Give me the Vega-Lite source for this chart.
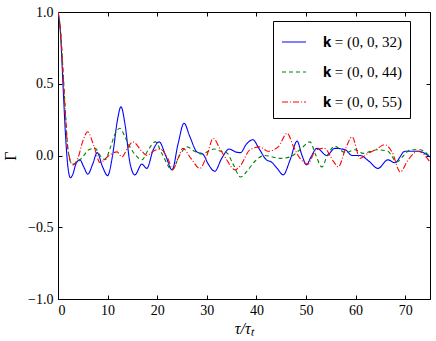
{
  "$schema": "https://vega.github.io/schema/vega-lite/v6.json",
  "width": 372,
  "height": 287,
  "autosize": {"type": "none"},
  "padding": {"left": 58, "top": 12, "right": 6, "bottom": 42},
  "background": "white",
  "config": {
    "view": {"stroke": "black", "strokeWidth": 1},
    "font": "serif",
    "style": {
      "guide-label": {"font": "serif", "fill": "black"},
      "guide-title": {"font": "serif", "fill": "black"}
    },
    "axis": {
      "domain": false,
      "grid": false,
      "tickColor": "black",
      "tickSize": -4,
      "tickWidth": 1,
      "labelFont": "serif",
      "labelFontSize": 14,
      "labelFontWeight": "normal",
      "labelColor": "black",
      "titleFont": "serif",
      "titleFontWeight": "normal",
      "titleColor": "black",
      "titleFontSize": 16
    },
    "legend": {"labelFont": "serif"}
  },
  "data": {
    "values": [
      {"s": "𝐤 = (0, 0, 32)", "x": 0, "y": 1.0},
      {"s": "𝐤 = (0, 0, 32)", "x": 0.5, "y": 0.85},
      {"s": "𝐤 = (0, 0, 32)", "x": 1, "y": 0.5},
      {"s": "𝐤 = (0, 0, 32)", "x": 1.5, "y": 0.15},
      {"s": "𝐤 = (0, 0, 32)", "x": 2, "y": -0.08},
      {"s": "𝐤 = (0, 0, 32)", "x": 2.5, "y": -0.155},
      {"s": "𝐤 = (0, 0, 32)", "x": 3, "y": -0.13},
      {"s": "𝐤 = (0, 0, 32)", "x": 3.6, "y": -0.06},
      {"s": "𝐤 = (0, 0, 32)", "x": 4.4, "y": -0.03},
      {"s": "𝐤 = (0, 0, 32)", "x": 5.2, "y": -0.08},
      {"s": "𝐤 = (0, 0, 32)", "x": 6.0, "y": -0.13},
      {"s": "𝐤 = (0, 0, 32)", "x": 7.0, "y": -0.06},
      {"s": "𝐤 = (0, 0, 32)", "x": 7.9, "y": 0.02},
      {"s": "𝐤 = (0, 0, 32)", "x": 9.0, "y": -0.08},
      {"s": "𝐤 = (0, 0, 32)", "x": 10.0, "y": -0.14},
      {"s": "𝐤 = (0, 0, 32)", "x": 11.0, "y": 0.0},
      {"s": "𝐤 = (0, 0, 32)", "x": 12.0, "y": 0.25},
      {"s": "𝐤 = (0, 0, 32)", "x": 12.7, "y": 0.34},
      {"s": "𝐤 = (0, 0, 32)", "x": 13.5, "y": 0.22},
      {"s": "𝐤 = (0, 0, 32)", "x": 14.5, "y": -0.05},
      {"s": "𝐤 = (0, 0, 32)", "x": 15.5, "y": -0.135},
      {"s": "𝐤 = (0, 0, 32)", "x": 16.9, "y": -0.06},
      {"s": "𝐤 = (0, 0, 32)", "x": 17.9, "y": -0.09},
      {"s": "𝐤 = (0, 0, 32)", "x": 19.2, "y": 0.04},
      {"s": "𝐤 = (0, 0, 32)", "x": 20.4, "y": 0.095},
      {"s": "𝐤 = (0, 0, 32)", "x": 21.7, "y": 0.0},
      {"s": "𝐤 = (0, 0, 32)", "x": 23.0, "y": -0.10},
      {"s": "𝐤 = (0, 0, 32)", "x": 24.2, "y": 0.08},
      {"s": "𝐤 = (0, 0, 32)", "x": 25.4, "y": 0.225},
      {"s": "𝐤 = (0, 0, 32)", "x": 26.6, "y": 0.13},
      {"s": "𝐤 = (0, 0, 32)", "x": 28.0, "y": 0.025},
      {"s": "𝐤 = (0, 0, 32)", "x": 29.2, "y": 0.01},
      {"s": "𝐤 = (0, 0, 32)", "x": 30.3, "y": -0.06},
      {"s": "𝐤 = (0, 0, 32)", "x": 31.6, "y": -0.11},
      {"s": "𝐤 = (0, 0, 32)", "x": 33.0, "y": -0.02},
      {"s": "𝐤 = (0, 0, 32)", "x": 34.5, "y": 0.045},
      {"s": "𝐤 = (0, 0, 32)", "x": 35.8, "y": 0.025},
      {"s": "𝐤 = (0, 0, 32)", "x": 36.8, "y": 0.02},
      {"s": "𝐤 = (0, 0, 32)", "x": 38.0, "y": 0.08},
      {"s": "𝐤 = (0, 0, 32)", "x": 39.3, "y": 0.11},
      {"s": "𝐤 = (0, 0, 32)", "x": 40.5, "y": 0.05},
      {"s": "𝐤 = (0, 0, 32)", "x": 42.0, "y": -0.03},
      {"s": "𝐤 = (0, 0, 32)", "x": 43.0, "y": -0.045},
      {"s": "𝐤 = (0, 0, 32)", "x": 44.2, "y": -0.09},
      {"s": "𝐤 = (0, 0, 32)", "x": 45.4, "y": -0.135},
      {"s": "𝐤 = (0, 0, 32)", "x": 46.8, "y": -0.03},
      {"s": "𝐤 = (0, 0, 32)", "x": 48.2, "y": 0.10},
      {"s": "𝐤 = (0, 0, 32)", "x": 49.2, "y": 0.0},
      {"s": "𝐤 = (0, 0, 32)", "x": 50.1, "y": -0.065},
      {"s": "𝐤 = (0, 0, 32)", "x": 51.0, "y": -0.01},
      {"s": "𝐤 = (0, 0, 32)", "x": 52.2, "y": 0.05},
      {"s": "𝐤 = (0, 0, 32)", "x": 54.2, "y": 0.0},
      {"s": "𝐤 = (0, 0, 32)", "x": 55.8, "y": 0.05},
      {"s": "𝐤 = (0, 0, 32)", "x": 57.9, "y": 0.04},
      {"s": "𝐤 = (0, 0, 32)", "x": 59.3, "y": 0.0},
      {"s": "𝐤 = (0, 0, 32)", "x": 60.9, "y": 0.0},
      {"s": "𝐤 = (0, 0, 32)", "x": 62.7, "y": -0.04},
      {"s": "𝐤 = (0, 0, 32)", "x": 64.5, "y": -0.09},
      {"s": "𝐤 = (0, 0, 32)", "x": 66.5, "y": -0.03},
      {"s": "𝐤 = (0, 0, 32)", "x": 67.9, "y": -0.05},
      {"s": "𝐤 = (0, 0, 32)", "x": 70.0, "y": 0.03},
      {"s": "𝐤 = (0, 0, 32)", "x": 72.6, "y": 0.03},
      {"s": "𝐤 = (0, 0, 32)", "x": 75.0, "y": -0.01},

      {"s": "𝐤 = (0, 0, 44)", "x": 0, "y": 1.0},
      {"s": "𝐤 = (0, 0, 44)", "x": 0.5, "y": 0.88},
      {"s": "𝐤 = (0, 0, 44)", "x": 1, "y": 0.6},
      {"s": "𝐤 = (0, 0, 44)", "x": 1.5, "y": 0.3},
      {"s": "𝐤 = (0, 0, 44)", "x": 2, "y": 0.05},
      {"s": "𝐤 = (0, 0, 44)", "x": 2.8, "y": -0.06},
      {"s": "𝐤 = (0, 0, 44)", "x": 3.8, "y": -0.05},
      {"s": "𝐤 = (0, 0, 44)", "x": 5.0, "y": -0.01},
      {"s": "𝐤 = (0, 0, 44)", "x": 6.2, "y": 0.04},
      {"s": "𝐤 = (0, 0, 44)", "x": 7.5, "y": 0.05},
      {"s": "𝐤 = (0, 0, 44)", "x": 8.5, "y": 0.0},
      {"s": "𝐤 = (0, 0, 44)", "x": 9.5, "y": -0.03},
      {"s": "𝐤 = (0, 0, 44)", "x": 10.5, "y": 0.05},
      {"s": "𝐤 = (0, 0, 44)", "x": 11.5, "y": 0.15},
      {"s": "𝐤 = (0, 0, 44)", "x": 12.5, "y": 0.19},
      {"s": "𝐤 = (0, 0, 44)", "x": 13.5, "y": 0.13},
      {"s": "𝐤 = (0, 0, 44)", "x": 14.5, "y": 0.06},
      {"s": "𝐤 = (0, 0, 44)", "x": 15.7, "y": 0.0},
      {"s": "𝐤 = (0, 0, 44)", "x": 16.9, "y": -0.03},
      {"s": "𝐤 = (0, 0, 44)", "x": 18.2, "y": 0.04},
      {"s": "𝐤 = (0, 0, 44)", "x": 19.6, "y": 0.095},
      {"s": "𝐤 = (0, 0, 44)", "x": 21.0, "y": 0.01},
      {"s": "𝐤 = (0, 0, 44)", "x": 23.0, "y": -0.10},
      {"s": "𝐤 = (0, 0, 44)", "x": 24.5, "y": 0.0},
      {"s": "𝐤 = (0, 0, 44)", "x": 26.0, "y": 0.06},
      {"s": "𝐤 = (0, 0, 44)", "x": 27.5, "y": 0.03},
      {"s": "𝐤 = (0, 0, 44)", "x": 29.0, "y": 0.01},
      {"s": "𝐤 = (0, 0, 44)", "x": 30.3, "y": 0.03},
      {"s": "𝐤 = (0, 0, 44)", "x": 31.5, "y": 0.045},
      {"s": "𝐤 = (0, 0, 44)", "x": 32.8, "y": 0.03},
      {"s": "𝐤 = (0, 0, 44)", "x": 34.0, "y": 0.02},
      {"s": "𝐤 = (0, 0, 44)", "x": 35.3, "y": -0.06},
      {"s": "𝐤 = (0, 0, 44)", "x": 36.8, "y": -0.15},
      {"s": "𝐤 = (0, 0, 44)", "x": 38.3, "y": -0.1},
      {"s": "𝐤 = (0, 0, 44)", "x": 39.7, "y": -0.04},
      {"s": "𝐤 = (0, 0, 44)", "x": 41.7, "y": 0.0},
      {"s": "𝐤 = (0, 0, 44)", "x": 43.2, "y": -0.01},
      {"s": "𝐤 = (0, 0, 44)", "x": 44.8, "y": -0.02},
      {"s": "𝐤 = (0, 0, 44)", "x": 46.8, "y": -0.01},
      {"s": "𝐤 = (0, 0, 44)", "x": 48.8, "y": 0.04},
      {"s": "𝐤 = (0, 0, 44)", "x": 50.8, "y": 0.095},
      {"s": "𝐤 = (0, 0, 44)", "x": 52.0, "y": 0.0},
      {"s": "𝐤 = (0, 0, 44)", "x": 53.2, "y": -0.08},
      {"s": "𝐤 = (0, 0, 44)", "x": 54.3, "y": 0.0},
      {"s": "𝐤 = (0, 0, 44)", "x": 55.8, "y": 0.065},
      {"s": "𝐤 = (0, 0, 44)", "x": 57.9, "y": 0.02},
      {"s": "𝐤 = (0, 0, 44)", "x": 59.9, "y": 0.04},
      {"s": "𝐤 = (0, 0, 44)", "x": 61.5, "y": 0.015},
      {"s": "𝐤 = (0, 0, 44)", "x": 64.3, "y": 0.04},
      {"s": "𝐤 = (0, 0, 44)", "x": 66.5, "y": 0.03},
      {"s": "𝐤 = (0, 0, 44)", "x": 68.3, "y": -0.045},
      {"s": "𝐤 = (0, 0, 44)", "x": 69.7, "y": 0.0},
      {"s": "𝐤 = (0, 0, 44)", "x": 71.0, "y": 0.04},
      {"s": "𝐤 = (0, 0, 44)", "x": 73.0, "y": 0.04},
      {"s": "𝐤 = (0, 0, 44)", "x": 75.0, "y": -0.01},

      {"s": "𝐤 = (0, 0, 55)", "x": 0, "y": 1.0},
      {"s": "𝐤 = (0, 0, 55)", "x": 0.5, "y": 0.87},
      {"s": "𝐤 = (0, 0, 55)", "x": 1, "y": 0.58},
      {"s": "𝐤 = (0, 0, 55)", "x": 1.5, "y": 0.28},
      {"s": "𝐤 = (0, 0, 55)", "x": 2, "y": 0.04},
      {"s": "𝐤 = (0, 0, 55)", "x": 3.0, "y": -0.065},
      {"s": "𝐤 = (0, 0, 55)", "x": 4.0, "y": -0.02},
      {"s": "𝐤 = (0, 0, 55)", "x": 5.0, "y": 0.1},
      {"s": "𝐤 = (0, 0, 55)", "x": 6.0, "y": 0.165},
      {"s": "𝐤 = (0, 0, 55)", "x": 7.2, "y": 0.07},
      {"s": "𝐤 = (0, 0, 55)", "x": 8.5, "y": -0.05},
      {"s": "𝐤 = (0, 0, 55)", "x": 9.9, "y": -0.01},
      {"s": "𝐤 = (0, 0, 55)", "x": 11.9, "y": 0.025},
      {"s": "𝐤 = (0, 0, 55)", "x": 12.9, "y": -0.01},
      {"s": "𝐤 = (0, 0, 55)", "x": 14.0, "y": 0.05},
      {"s": "𝐤 = (0, 0, 55)", "x": 15.1, "y": 0.095},
      {"s": "𝐤 = (0, 0, 55)", "x": 16.9, "y": 0.03},
      {"s": "𝐤 = (0, 0, 55)", "x": 17.9, "y": 0.0},
      {"s": "𝐤 = (0, 0, 55)", "x": 19.2, "y": 0.03},
      {"s": "𝐤 = (0, 0, 55)", "x": 20.6, "y": 0.045},
      {"s": "𝐤 = (0, 0, 55)", "x": 22.0, "y": -0.01},
      {"s": "𝐤 = (0, 0, 55)", "x": 23.2, "y": -0.095},
      {"s": "𝐤 = (0, 0, 55)", "x": 24.2, "y": -0.02},
      {"s": "𝐤 = (0, 0, 55)", "x": 25.2, "y": 0.05},
      {"s": "𝐤 = (0, 0, 55)", "x": 26.8, "y": -0.02},
      {"s": "𝐤 = (0, 0, 55)", "x": 28.6, "y": -0.09},
      {"s": "𝐤 = (0, 0, 55)", "x": 30.0, "y": 0.0},
      {"s": "𝐤 = (0, 0, 55)", "x": 31.3, "y": 0.12},
      {"s": "𝐤 = (0, 0, 55)", "x": 32.6, "y": 0.05},
      {"s": "𝐤 = (0, 0, 55)", "x": 34.0, "y": -0.03},
      {"s": "𝐤 = (0, 0, 55)", "x": 35.7, "y": -0.10},
      {"s": "𝐤 = (0, 0, 55)", "x": 36.8, "y": -0.07},
      {"s": "𝐤 = (0, 0, 55)", "x": 38.7, "y": 0.04},
      {"s": "𝐤 = (0, 0, 55)", "x": 40.7, "y": 0.06},
      {"s": "𝐤 = (0, 0, 55)", "x": 42.3, "y": 0.03},
      {"s": "𝐤 = (0, 0, 55)", "x": 44.4, "y": 0.06},
      {"s": "𝐤 = (0, 0, 55)", "x": 46.2, "y": 0.155},
      {"s": "𝐤 = (0, 0, 55)", "x": 47.5, "y": 0.06},
      {"s": "𝐤 = (0, 0, 55)", "x": 48.8, "y": -0.02},
      {"s": "𝐤 = (0, 0, 55)", "x": 50.4, "y": -0.06},
      {"s": "𝐤 = (0, 0, 55)", "x": 52.0, "y": 0.04},
      {"s": "𝐤 = (0, 0, 55)", "x": 53.7, "y": 0.05},
      {"s": "𝐤 = (0, 0, 55)", "x": 55.6, "y": -0.045},
      {"s": "𝐤 = (0, 0, 55)", "x": 56.5, "y": -0.08},
      {"s": "𝐤 = (0, 0, 55)", "x": 58.0, "y": 0.05},
      {"s": "𝐤 = (0, 0, 55)", "x": 59.3, "y": 0.13},
      {"s": "𝐤 = (0, 0, 55)", "x": 60.9, "y": -0.02},
      {"s": "𝐤 = (0, 0, 55)", "x": 62.5, "y": 0.015},
      {"s": "𝐤 = (0, 0, 55)", "x": 64.0, "y": 0.04},
      {"s": "𝐤 = (0, 0, 55)", "x": 65.9, "y": 0.075},
      {"s": "𝐤 = (0, 0, 55)", "x": 67.4, "y": 0.02},
      {"s": "𝐤 = (0, 0, 55)", "x": 69.0, "y": -0.115},
      {"s": "𝐤 = (0, 0, 55)", "x": 70.6, "y": -0.03},
      {"s": "𝐤 = (0, 0, 55)", "x": 72.6, "y": 0.03},
      {"s": "𝐤 = (0, 0, 55)", "x": 75.0, "y": -0.045}
    ]
  },
  "layer": [
    {
      "mark": {"type": "line", "interpolate": "monotone", "strokeWidth": 1.1, "clip": true},
      "encoding": {
        "x": {
          "field": "x", "type": "quantitative",
          "scale": {"domain": [0, 75], "nice": false, "zero": false},
          "axis": {"values": [0, 10, 20, 30, 40, 50, 60, 70], "format": "d", "labelPadding": 8, "labelFont": "serif", "title": "τ/τₜ", "titleFont": "serif", "titleFontStyle": "italic", "titlePadding": 3}
        },
        "y": {
          "field": "y", "type": "quantitative",
          "scale": {"domain": [-1, 1], "nice": false},
          "axis": {"values": [-1, -0.5, 0, 0.5, 1], "labelExpr": "replace(format(datum.value, '.1f'), '-', '−')", "labelPadding": 9, "labelFont": "serif", "title": "Γ", "titleFont": "serif", "titlePadding": 9}
        },
        "color": {
          "field": "s", "type": "nominal",
          "scale": {"domain": ["𝐤 = (0, 0, 32)", "𝐤 = (0, 0, 44)", "𝐤 = (0, 0, 55)"], "range": ["#0000ff", "#008000", "#ff0000"]},
          "legend": {
            "title": null,
            "orient": "none",
            "legendX": 215,
            "legendY": 9,
            "symbolType": "stroke",
            "symbolSize": 576,
            "symbolStrokeWidth": 1.2,
            "labelFont": "serif",
            "labelFontSize": 15,
            "labelColor": "black",
            "labelOffset": 16,
            "rowPadding": 9,
            "padding": 8,
            "strokeColor": "black",
            "fillColor": "white",
            "cornerRadius": 0
          }
        },
        "strokeDash": {
          "field": "s", "type": "nominal",
          "scale": {"domain": ["𝐤 = (0, 0, 32)", "𝐤 = (0, 0, 44)", "𝐤 = (0, 0, 55)"], "range": [[1, 0], [4, 3], [6, 2, 1, 2]]},
          "legend": {"title": null}
        }
      }
    },
    {
      "mark": {"type": "line", "opacity": 0},
      "encoding": {
        "x": {"field": "x", "type": "quantitative", "scale": {"domain": [0, 75], "nice": false, "zero": false},
              "axis": {"orient": "top", "values": [0, 10, 20, 30, 40, 50, 60, 70], "labels": false, "title": null}},
        "y": {"field": "y", "type": "quantitative", "scale": {"domain": [-1, 1], "nice": false},
              "axis": {"orient": "right", "values": [-1, -0.5, 0, 0.5, 1], "labels": false, "title": null}}
      }
    }
  ],
  "resolve": {"axis": {"x": "independent", "y": "independent"}}
}
